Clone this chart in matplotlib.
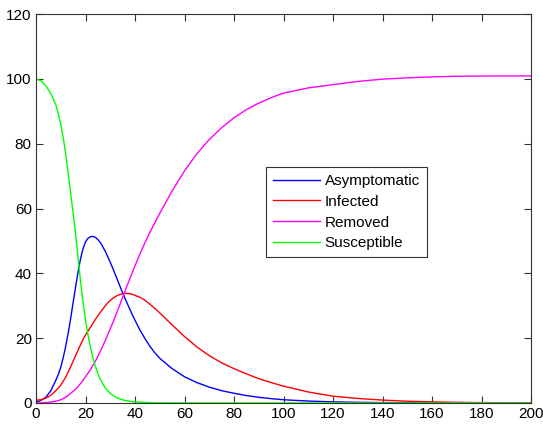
import matplotlib
matplotlib.use('Agg')
import matplotlib.pyplot as plt

t = [0, 2, 4, 6, 8, 9, 10, 11, 12, 13, 14, 15, 16, 17, 18, 19, 20, 21, 22, 23, 24,
     25, 26, 27, 28, 29, 30, 31, 32, 33, 34, 35, 36, 37, 38, 39, 40,
     42, 44, 46, 48, 50, 55, 60, 65, 70, 75, 80, 85, 90, 95, 100,
     110, 120, 130, 140, 150, 160, 170, 180, 190, 200]

asymptomatic = [0.3, 0.8, 1.8, 3.8, 7.0, 8.8, 11.0, 14.0, 17.5, 21.5, 26.0, 31.0,
                35.8, 40.5, 44.5, 47.6, 49.7, 50.8, 51.3, 51.4, 51.1,
                50.4, 49.5, 48.2, 46.8, 45.1, 43.4, 41.6, 39.7, 37.8, 35.9, 34.0,
                32.2, 30.5, 28.8, 27.1, 25.5,
                22.5, 19.9, 17.5, 15.5, 13.8, 10.6, 8.1, 6.3, 4.9, 3.8, 3.0, 2.3,
                1.75, 1.35, 1.0,
                0.6, 0.35, 0.2, 0.12, 0.07, 0.05, 0.03, 0.02, 0.01, 0.0]

infected = [0.9, 1.0, 1.5, 2.4, 3.8, 4.6, 5.5, 6.7, 8.0, 9.5, 11.2, 12.9,
            14.6, 16.3, 18.0, 19.6, 21.0, 22.2, 23.4, 24.6, 25.8,
            26.9, 28.0, 29.0, 30.0, 30.9, 31.6, 32.3, 32.8, 33.2, 33.5, 33.7,
            33.8, 33.8, 33.7, 33.5, 33.2,
            32.6, 31.7, 30.5, 29.2, 27.8, 24.1, 20.5, 17.3, 14.6, 12.4, 10.6, 9.0,
            7.5, 6.3, 5.2,
            3.4, 2.1, 1.4, 0.9, 0.55, 0.35, 0.2, 0.12, 0.08, 0.05]

removed = [0.0, 0.05, 0.15, 0.3, 0.55, 0.75, 1.0, 1.35, 1.8, 2.35, 3.0, 3.6,
           4.3, 5.1, 6.0, 7.0, 8.1, 9.2, 10.3, 11.6, 12.9,
           14.4, 16.0, 17.6, 19.3, 21.1, 22.9, 24.7, 26.6, 28.6, 30.6, 32.6,
           34.6, 36.6, 38.5, 40.4, 42.3,
           46.0, 49.4, 52.6, 55.6, 58.5, 65.4, 71.6, 76.9, 81.3, 84.9, 88.0, 90.5,
           92.5, 94.2, 95.6,
           97.2, 98.2, 99.2, 99.9, 100.3, 100.6, 100.8, 100.85, 100.9, 100.9]

susceptible = [100.0, 99.4, 97.8, 95.5, 92.0, 89.3, 86.0, 81.8, 76.8, 71.0, 64.8, 58.5,
               52.0, 44.8, 37.5, 31.0, 25.5, 21.0, 17.2, 14.0, 11.3,
               9.1, 7.3, 5.9, 4.7, 3.8, 3.0, 2.4, 1.9, 1.5, 1.2, 1.0,
               0.8, 0.65, 0.5, 0.4, 0.35,
               0.25, 0.18, 0.12, 0.08, 0.05, 0.03, 0.02, 0.01, 0.0, 0.0, 0.0, 0.0,
               0.0, 0.0, 0.0,
               0.0, 0.0, 0.0, 0.0, 0.0, 0.0, 0.0, 0.0, 0.0, 0.0]

labels = ['Asymptomatic', 'Infected', 'Removed', 'Susceptible']
colors = ['#0000ff', '#ff0000', '#ff00ff', '#00ff00']

plt.rcParams['font.family'] = ['Liberation Sans', 'DejaVu Sans']

fig = plt.figure(figsize=(5.43, 4.29), dpi=100)
ax = fig.add_axes([36 / 543, 26 / 429, 495 / 543, 389 / 429])

for ys, lab, col in zip([asymptomatic, infected, removed, susceptible], labels, colors):
    ax.plot(t, ys, color=col, lw=1.0, label=lab, solid_joinstyle='round')

ax.set_xlim(0, 200)
ax.set_ylim(0, 120)
ax.set_xticks(range(0, 201, 20))
ax.set_yticks(range(0, 121, 20))
ax.tick_params(direction='in', top=True, right=True, length=5, width=0.8,
               labelsize=11, colors='#333333', labelcolor='black', pad=3)
for s in ax.spines.values():
    s.set_color('#333333')
    s.set_linewidth(0.8)

leg = ax.legend(loc='upper left', bbox_to_anchor=(0.4646, 0.6067), borderaxespad=0,
                fontsize=11, frameon=True, fancybox=False, edgecolor='black',
                handlelength=3.1, handletextpad=0.3, labelspacing=0.45,
                borderpad=0.45)
leg.get_frame().set_linewidth(0.8)

plt.savefig('out.png', dpi=100)
plt.close()
